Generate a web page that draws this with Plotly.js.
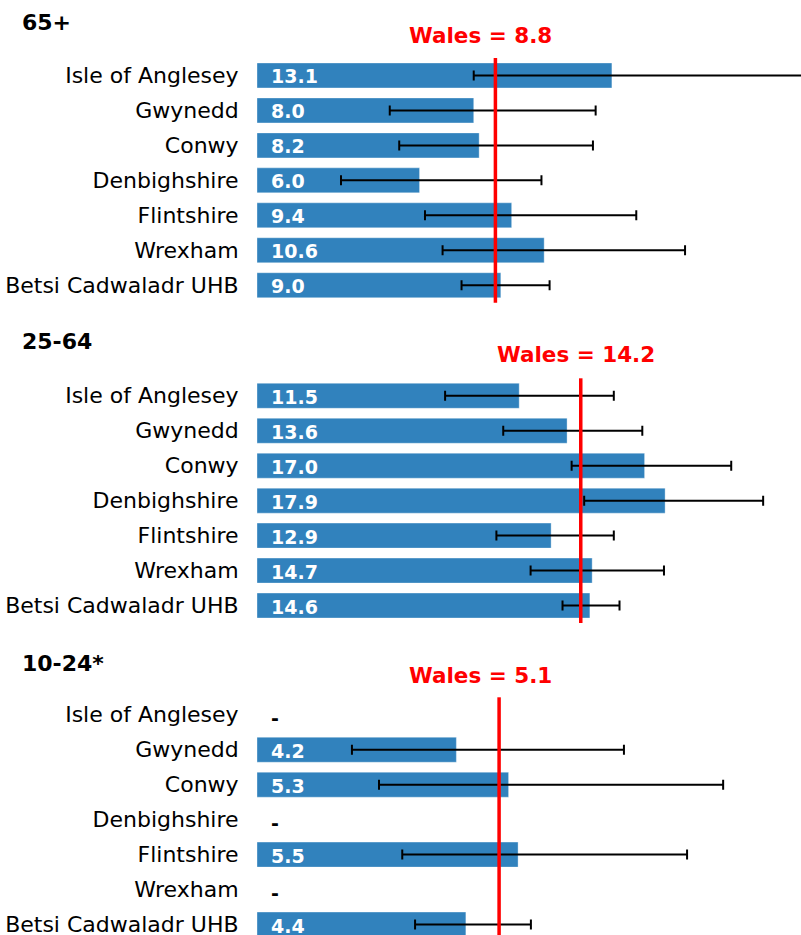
<!DOCTYPE html>
<html>
<head>
<meta charset="utf-8">
<script src="https://cdn.plot.ly/plotly-3.0.1.min.js"></script>
<style>html,body{margin:0;padding:0;background:#fff;}#chart{width:801px;height:935px;}</style>
</head>
<body>
<div id="chart"></div>
<script>
// ---- data ----
const areas = ["Isle of Anglesey", "Gwynedd", "Conwy", "Denbighshire", "Flintshire", "Wrexham", "Betsi Cadwaladr UHB"];
const panelTitles = ["65+", "25-64", "10-24*"];
const walesValues = [8.8, 14.2, 5.1];

const values65 = [13.1, 8.0, 8.2, 6.0, 9.4, 10.6, 9.0];
const lower65  = [8.0, 4.9, 5.25, 3.1, 6.2, 6.85, 7.55];
const upper65  = [21.0, 12.5, 12.4, 10.5, 14.0, 15.8, 10.8];

const values2564 = [11.5, 13.6, 17.0, 17.9, 12.9, 14.7, 14.6];
const lower2564  = [8.25, 10.8, 13.8, 14.35, 10.5, 12.0, 13.4];
const upper2564  = [15.65, 16.9, 20.8, 22.2, 15.65, 17.85, 15.9];

const values1024 = [null, 4.2, 5.3, null, 5.5, null, 4.4];
const lower1024  = [null, 2.0, 2.57, null, 3.06, null, 3.33];
const upper1024  = [null, 7.73, 9.82, null, 9.06, null, 5.77];

// ---- layout helpers (styles/positions) ----
const W = 801, H = 935;
const FONT = "DejaVu Sans, Verdana, sans-serif";
const barColor = "#3182BD";
const panels = [
  {vals: values65, lo: lower65, hi: upper65, xmax: 20.08, top: 58, titleY: 22, walesY: 35, walesX: 480},
  {vals: values2564, lo: lower2564, hi: upper2564, xmax: 23.86, top: 378.3, titleY: 342, walesY: 354, walesX: 576},
  {vals: values1024, lo: lower1024, hi: upper1024, xmax: 11.46, top: 697.3, titleY: 663, walesY: 675, walesX: 480}
];
const rowH = 34.96;

const traces = [];
const layout = {
  width: W, height: H,
  margin: {l: 0, r: 0, t: 0, b: 0},
  paper_bgcolor: "#fff", plot_bgcolor: "#fff",
  showlegend: false,
  bargap: 0.285,
  font: {family: FONT, color: "#000"},
  shapes: [], annotations: []
};

panels.forEach((p, i) => {
  const n = i === 0 ? "" : String(i + 1);
  const xa = "x" + n, ya = "y" + n;
  const bottomPx = Math.min(p.top + rowH * 7, H);
  const rangeEnd = (bottomPx - p.top) / rowH - 0.5;
  traces.push({
    type: "bar", orientation: "h",
    x: p.vals, y: areas,
    xaxis: xa, yaxis: ya,
    marker: {color: barColor, line: {color: "rgba(255,255,255,0.35)", width: 1}},
    error_x: {
      type: "data", symmetric: false,
      array: p.vals.map((v, k) => v == null ? null : p.hi[k] - v),
      arrayminus: p.vals.map((v, k) => v == null ? null : v - p.lo[k]),
      color: "#000", thickness: 2, width: 5
    },
    hoverinfo: "none"
  });
  layout["xaxis" + n] = {
    domain: [257 / W, 1], range: [0, p.xmax], anchor: ya,
    showgrid: false, zeroline: false, showticklabels: false, showline: false, ticks: "", fixedrange: true
  };
  layout["yaxis" + n] = {
    domain: [1 - bottomPx / H, 1 - p.top / H], anchor: xa,
    type: "category", categoryorder: "array", categoryarray: areas,
    range: [rangeEnd, -0.5],
    showgrid: false, zeroline: false, showline: false,
    ticks: "outside", ticklen: 13, tickcolor: "rgba(0,0,0,0)",
    tickfont: {family: FONT, size: 22, color: "#000"}, fixedrange: true
  };
  layout.shapes.push({
    type: "line", xref: xa, yref: ya + " domain",
    x0: walesValues[i], x1: walesValues[i], y0: 0, y1: 1,
    line: {color: "#FF0000", width: 3.5}, layer: "above"
  });
  layout.annotations.push({
    xref: "paper", yref: "paper", x: p.walesX / W, y: 1 - p.walesY / H,
    xanchor: "center", yanchor: "middle", showarrow: false,
    text: "Wales = " + walesValues[i].toFixed(1),
    font: {family: FONT, size: 21.5, color: "#FF0000", weight: "bold"}
  });
  layout.annotations.push({
    xref: "paper", yref: "paper", x: 20 / W, y: 1 - p.titleY / H,
    xanchor: "left", yanchor: "middle", showarrow: false,
    text: panelTitles[i],
    font: {family: FONT, size: 22, color: "#000", weight: "bold"}
  });
  p.vals.forEach((v, k) => {
    layout.annotations.push({
      xref: xa, yref: ya, x: 0, y: areas[k],
      xanchor: "left", yanchor: "middle", xshift: 12, yshift: v == null ? -3 : -1, showarrow: false,
      text: v == null ? "-" : v.toFixed(1),
      font: {family: FONT, size: 19, color: v == null ? "#000" : "#fff", weight: "bold"}
    });
  });
});

Plotly.newPlot("chart", traces, layout, {displayModeBar: false, staticPlot: true});
</script>
</body>
</html>
